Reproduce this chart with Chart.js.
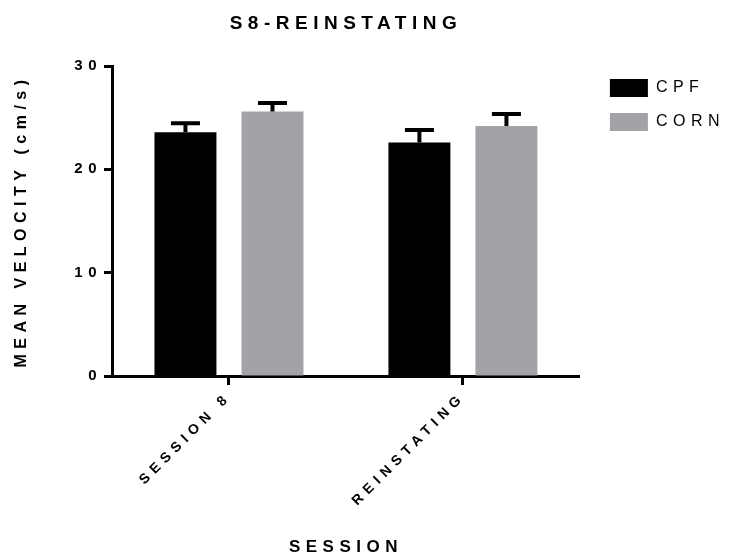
<!DOCTYPE html>
<html lang="en">
<head>
<meta charset="UTF-8">
<title>S8-REINSTATING</title>
<script src="https://cdn.jsdelivr.net/npm/chart.js"></script>
<style>
    body { margin: 0; background: #ffffff; }
    #wrap { width: 734px; height: 560px; }
</style>
</head>
<body>
<div id="wrap"><canvas id="velocityChart" width="734" height="560"></canvas></div>
<script>
    // values (mean +/- SEM, cm/s)
    const sessions = ['SESSION 8', 'REINSTATING'];
    const cpfMeans = [23.6, 22.6];
    const cpfErrors = [0.87, 1.2];
    const cornMeans = [25.6, 24.2];
    const cornErrors = [0.83, 1.16];
    const yTicks = [0, 10, 20, 30];

    const FONT = 'Arial, "Liberation Sans", sans-serif';
    const SPACING = '5.5px';

    // Prism-style wide letter spacing on every text drawn by Chart.js
    const spacedText = {
        id: 'spacedText',
        beforeLayout(chart) { chart.ctx.letterSpacing = SPACING; },
        beforeDraw(chart) { chart.ctx.letterSpacing = SPACING; }
    };

    // upper error bars with a cap
    const errorBars = {
        id: 'errorBars',
        afterDatasetsDraw(chart) {
            const ctx = chart.ctx;
            const yScale = chart.scales.y;
            ctx.save();
            ctx.strokeStyle = '#000';
            ctx.lineWidth = 4;
            chart.data.datasets.forEach((ds, i) => {
                chart.getDatasetMeta(i).data.forEach((bar, j) => {
                    const top = yScale.getPixelForValue(ds.data[j] + ds.errors[j]);
                    ctx.beginPath();
                    ctx.moveTo(bar.x, bar.y);
                    ctx.lineTo(bar.x, top);
                    ctx.moveTo(bar.x - 14.5, top);
                    ctx.lineTo(bar.x + 14.5, top);
                    ctx.stroke();
                });
            });
            ctx.restore();
        }
    };

    // push the legend a bit away from the plot
    const legendNudge = {
        id: 'legendNudge',
        afterLayout(chart) {
            const lg = chart.legend;
            lg.left += 14; lg.right += 14;
            lg.top -= 3; lg.bottom -= 3;
        }
    };

    const axisLine = { display: true, color: '#000', width: 3 };

    new Chart(document.getElementById('velocityChart'), {
        type: 'bar',
        data: {
            labels: sessions,
            datasets: [{
                label: 'CPF',
                data: cpfMeans,
                errors: cpfErrors,
                backgroundColor: '#000000',
                borderWidth: 0
            }, {
                label: 'CORN',
                data: cornMeans,
                errors: cornErrors,
                backgroundColor: '#a3a2a7',
                borderWidth: 0
            }]
        },
        options: {
            responsive: false,
            animation: false,
            categoryPercentage: 0.744,
            barPercentage: 0.712,
            layout: { padding: { left: 0, right: 13, top: 0, bottom: 0 } },
            scales: {
                x: {
                    grid: { display: true, drawOnChartArea: false, offset: false, tickLength: 9, tickWidth: 3, tickColor: '#000' },
                    border: axisLine,
                    ticks: { color: '#000', font: { family: FONT, size: 14, weight: 'bold' }, minRotation: 45, maxRotation: 45, padding: 4 },
                    title: { display: true, text: 'SESSION', color: '#000', font: { family: FONT, size: 17, weight: 'bold' }, padding: { top: 2, bottom: 2 } },
                    afterFit(scale) { scale.height = 184; }
                },
                y: {
                    min: 0,
                    max: 30,
                    afterBuildTicks(scale) { scale.ticks = yTicks.map(v => ({ value: v })); },
                    grid: { display: true, drawOnChartArea: false, tickLength: 8, tickWidth: 3, tickColor: '#000' },
                    border: axisLine,
                    ticks: { color: '#000', font: { family: FONT, size: 15, weight: 'bold' }, padding: 2 },
                    title: { display: true, text: 'MEAN VELOCITY (cm/s)', color: '#000', font: { family: FONT, size: 16, weight: 'bold' }, padding: { top: 12, bottom: 12 } },
                    afterFit(scale) { scale.width = 112; }
                }
            },
            plugins: {
                title: {
                    display: true,
                    text: 'S8-REINSTATING',
                    color: '#000',
                    fullSize: false,
                    font: { family: FONT, size: 19, weight: 'bold' },
                    padding: { top: 12, bottom: 31.2 }
                },
                legend: {
                    position: 'right',
                    align: 'start',
                    fullSize: false,
                    labels: {
                        color: '#000',
                        font: { family: FONT, size: 16 },
                        boxWidth: 38,
                        boxHeight: 18,
                        padding: 16
                    }
                },
                tooltip: { enabled: false }
            }
        },
        plugins: [spacedText, errorBars, legendNudge]
    });
</script>
</body>
</html>
